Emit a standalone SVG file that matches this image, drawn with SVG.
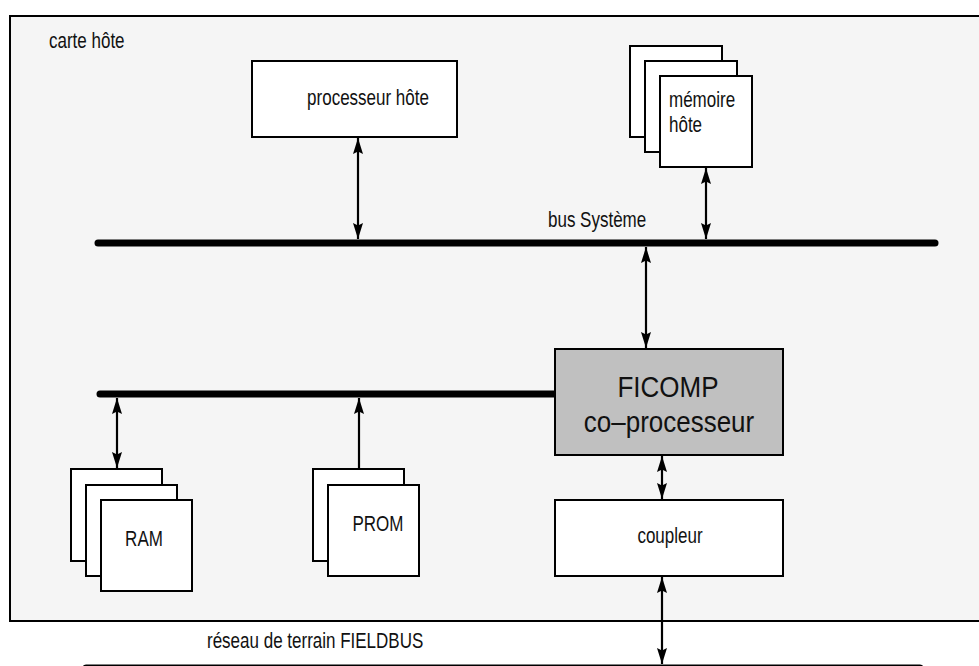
<svg xmlns="http://www.w3.org/2000/svg" width="979" height="666" viewBox="0 0 979 666">
  <defs>
    <marker id="head" viewBox="0 0 16 10" refX="16" refY="5" markerWidth="16" markerHeight="10" markerUnits="userSpaceOnUse" orient="auto-start-reverse">
      <path d="M0,0 L16,5 L0,10 L2.5,5 z" fill="#000"/>
    </marker>
  </defs>
  <style>
    .box { fill: #ffffff; stroke: #000; stroke-width: 2; }
    .chip { fill: #c0c0c0; stroke: #000; stroke-width: 2; }
    .bus { stroke: #000; stroke-width: 7; stroke-linecap: round; fill: none; }
    .link { stroke: #000; stroke-width: 2.2; fill: none; }
    .lbl { font-family: "Liberation Sans", Arial, sans-serif; font-size: 17px; fill: #111; }
    .big { font-family: "Liberation Sans", Arial, sans-serif; font-size: 26px; fill: #111; }
  </style>

  <rect x="0" y="0" width="979" height="666" fill="#ffffff"/>

  <!-- host board -->
  <g id="carte-hote">
    <rect x="10" y="16" width="980" height="605" fill="#f5f5f5" stroke="#000" stroke-width="2"/>
    <text class="lbl" transform="translate(49,48) scale(1,1.25)">carte hôte</text>
  </g>

  <!-- buses -->
  <g id="buses">
    <line class="bus" x1="98" y1="243" x2="935" y2="243"/>
    <line class="bus" x1="100" y1="394" x2="556" y2="394"/>
    <line class="bus" x1="86" y1="668" x2="920" y2="668"/>
    <text class="lbl" transform="translate(548,227) scale(1,1.25)">bus Système</text>
    <text class="lbl" transform="translate(207,648) scale(1,1.25)">réseau de terrain FIELDBUS</text>
  </g>

  <g id="processeur-hote">
    <rect class="box" x="252" y="61" width="205" height="76"/>
    <text class="lbl" text-anchor="middle" transform="translate(368,105) scale(1,1.25)">processeur hôte</text>
  </g>

  <g id="memoire-hote">
    <rect class="box" x="630" y="46" width="92" height="91"/>
    <rect class="box" x="645" y="61" width="92" height="91"/>
    <rect class="box" x="660" y="76" width="92" height="91"/>
    <text class="lbl" transform="translate(669,107) scale(1,1.25)">mémoire</text>
    <text class="lbl" transform="translate(669,132) scale(1,1.25)">hôte</text>
  </g>

  <g id="ficomp">
    <rect class="chip" x="555" y="349" width="228" height="106"/>
    <text class="big" text-anchor="middle" transform="translate(668,397) scale(1,1.15)">FICOMP</text>
    <text class="big" text-anchor="middle" transform="translate(669,432) scale(1,1.15)">co–processeur</text>
  </g>

  <g id="coupleur">
    <rect class="box" x="555" y="500" width="228" height="76"/>
    <text class="lbl" text-anchor="middle" transform="translate(670,543) scale(1,1.25)">coupleur</text>
  </g>

  <g id="ram">
    <rect class="box" x="71" y="469" width="91" height="92"/>
    <rect class="box" x="86" y="485" width="91" height="91"/>
    <rect class="box" x="101" y="500" width="91" height="91"/>
    <text class="lbl" text-anchor="middle" transform="translate(144,546) scale(1,1.25)">RAM</text>
  </g>

  <g id="prom">
    <rect class="box" x="313" y="469" width="91" height="92"/>
    <rect class="box" x="328" y="485" width="91" height="91"/>
    <text class="lbl" text-anchor="middle" transform="translate(378,531) scale(1,1.25)">PROM</text>
  </g>

  <!-- connectors -->
  <g id="connectors">
    <line class="link" x1="358" y1="138" x2="358" y2="239" marker-start="url(#head)" marker-end="url(#head)"/>
    <line class="link" x1="706" y1="168" x2="706" y2="239" marker-start="url(#head)" marker-end="url(#head)"/>
    <line class="link" x1="646" y1="247" x2="646" y2="348" marker-start="url(#head)" marker-end="url(#head)"/>
    <line class="link" x1="117" y1="398" x2="117" y2="468" marker-start="url(#head)" marker-end="url(#head)"/>
    <line class="link" x1="359" y1="469" x2="359" y2="398" marker-end="url(#head)"/>
    <line class="link" x1="662" y1="456" x2="662" y2="499" marker-start="url(#head)" marker-end="url(#head)"/>
    <line class="link" x1="662" y1="577" x2="662" y2="664" marker-start="url(#head)" marker-end="url(#head)"/>
  </g>
</svg>
